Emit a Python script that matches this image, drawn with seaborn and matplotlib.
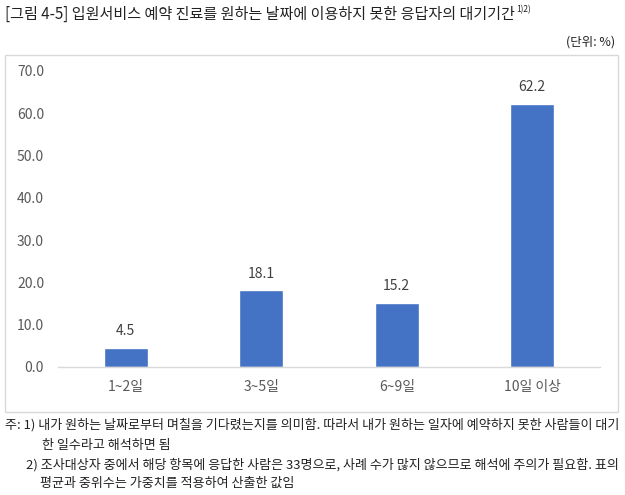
import matplotlib
matplotlib.use("Agg")
import matplotlib.pyplot as plt
import seaborn as sns
import pandas as pd
from matplotlib.patches import Rectangle

categories = ["1~2일", "3~5일", "6~9일", "10일 이상"]
values = [4.5, 18.1, 15.2, 62.2]
yticks = [0, 10, 20, 30, 40, 50, 60, 70]

title = "[그림 4-5] 입원서비스 예약 진료를 원하는 날짜에 이용하지 못한 응답자의 대기기간"
title_sup = "1)2)"
unit = "(단위: %)"
notes = [
    ("주: 1) 내가 원하는 날짜로부터 며칠을 기다렸는지를 의미함. 따라서 내가 원하는 일자에 예약하지 못한 사람들이 대기", 5),
    ("한 일수라고 해석하면 됨", 42),
    ("2) 조사대상자 중에서 해당 항목에 응답한 사람은 33명으로, 사례 수가 많지 않으므로 해석에 주의가 필요함. 표의", 26),
    ("평균과 중위수는 가중치를 적용하여 산출한 값임", 40),
]

sns.set_theme(style="white")
plt.rcParams['font.family'] = ['Noto Sans CJK KR', 'DejaVu Sans']

df = pd.DataFrame({"cat": categories, "val": values})

fig = plt.figure(figsize=(6.25, 4.95), dpi=100)
ax = fig.add_axes([58/625, 1-367/495, 542/625, 296/495])

sns.barplot(data=df, x="cat", y="val", color="#4472C4", width=0.325,
            saturation=1, ax=ax)
ax.set_xlim(-0.5, 3.5)
ax.set_ylim(0, 70)
ax.set_yticks(yticks)
ax.set_yticklabels([f"{v:.1f}" for v in yticks])
ax.set_xlabel("")
ax.set_ylabel("")
for s in ["top", "right", "left"]:
    ax.spines[s].set_visible(False)
ax.spines["bottom"].set_color("#D9D9D9")
ax.spines["bottom"].set_linewidth(1)
ax.tick_params(axis="both", length=0, colors="#595959", labelsize=10)
ax.tick_params(axis="y", pad=10)
ax.tick_params(axis="x", pad=9)
ax.grid(False)

for p, v in zip(ax.patches, values):
    ax.annotate(f"{v:.1f}", (p.get_x() + p.get_width()/2, p.get_height()),
                xytext=(0, 7), textcoords="offset points", ha="center", va="bottom",
                fontsize=10, color="#404040")

# Chart box border
fig.patches.append(Rectangle((5/625, 1-412/495), 613/625, 357/495, transform=fig.transFigure,
                             fill=False, edgecolor="#D9D9D9", linewidth=1))

t = fig.text(5/625, 1-14/495, title, fontsize=10.85, color="#222222", va="center", ha="left")
fig.canvas.draw()
bb = t.get_window_extent(renderer=fig.canvas.get_renderer())
fig.text(bb.x1/625 + 1/625, 1-10/495, title_sup, fontsize=6, color="#222222",
         va="center", ha="left")
fig.text(615/625, 1-42/495, unit, fontsize=9, color="#222222", va="center", ha="right")

ys = [425, 445, 465, 483]
for (txt, x), y in zip(notes, ys):
    fig.text(x/625, 1-y/495, txt, fontsize=9.4, color="#222222", va="center", ha="left")

fig.savefig("out.png", dpi=100)
